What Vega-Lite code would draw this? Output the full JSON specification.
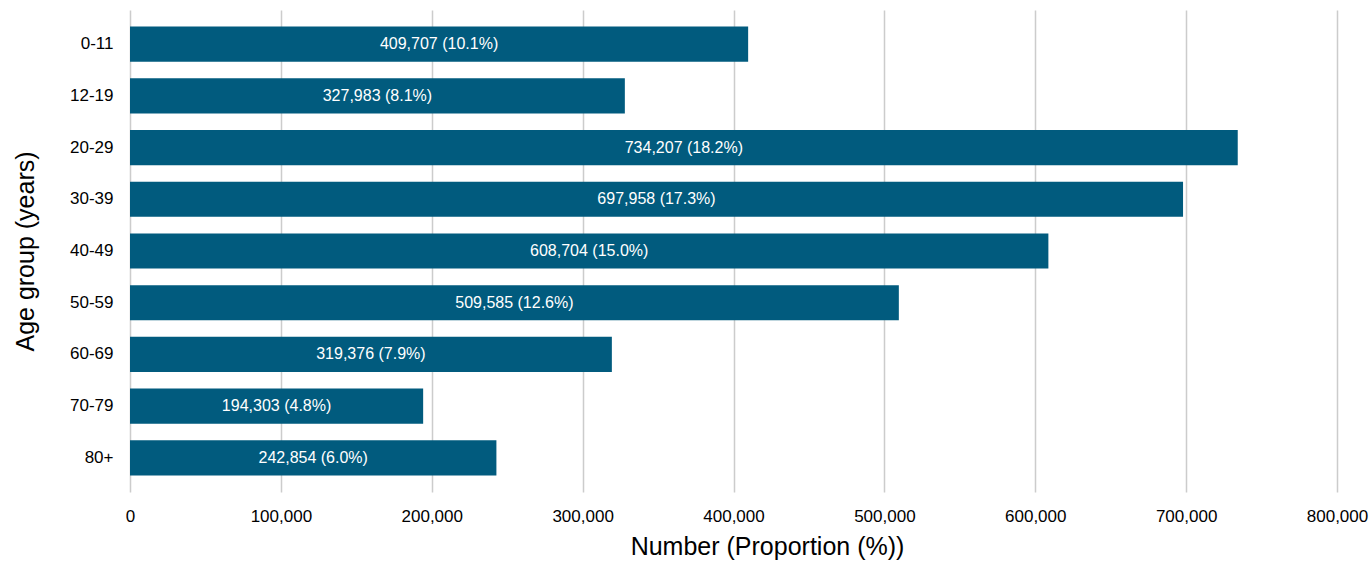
{
  "$schema": "https://vega.github.io/schema/vega-lite/v6.json",
  "width": 1207,
  "height": 482,
  "autosize": {"type": "none"},
  "padding": {"left": 130, "top": 10, "right": 34, "bottom": 70},
  "background": "white",
  "config": {
    "font": "Liberation Sans",
    "view": {"stroke": null},
    "axis": {
      "labelFontSize": 17,
      "labelColor": "#000000",
      "titleFontSize": 25,
      "titleFontWeight": "normal",
      "titleColor": "#000000",
      "ticks": false,
      "domain": false
    }
  },
  "data": {
    "values": [
      {"age": "0-11", "value": 409707, "label": "409,707 (10.1%)"},
      {"age": "12-19", "value": 327983, "label": "327,983 (8.1%)"},
      {"age": "20-29", "value": 734207, "label": "734,207 (18.2%)"},
      {"age": "30-39", "value": 697958, "label": "697,958 (17.3%)"},
      {"age": "40-49", "value": 608704, "label": "608,704 (15.0%)"},
      {"age": "50-59", "value": 509585, "label": "509,585 (12.6%)"},
      {"age": "60-69", "value": 319376, "label": "319,376 (7.9%)"},
      {"age": "70-79", "value": 194303, "label": "194,303 (4.8%)"},
      {"age": "80+", "value": 242854, "label": "242,854 (6.0%)"}
    ]
  },
  "transform": [{"calculate": "datum.value / 2", "as": "mid"}],
  "encoding": {
    "y": {
      "field": "age",
      "type": "nominal",
      "sort": null,
      "scale": {"paddingInner": 0.32, "paddingOuter": 0.32},
      "axis": {
        "title": "Age group (years)",
        "titlePadding": 31,
        "labelPadding": 17,
        "labelFontSize": 17,
        "grid": false
      }
    }
  },
  "layer": [
    {
      "mark": {"type": "bar", "color": "#015b7e"},
      "encoding": {
        "x": {
          "field": "value",
          "type": "quantitative",
          "scale": {"domain": [0, 800000], "nice": false},
          "title": "Number (Proportion (%))",
          "axis": {
            "title": "Number (Proportion (%))",
            "titlePadding": 10,
            "titleX": 637,
            "labelPadding": 16,
            "labelFontSize": 17,
            "values": [0, 100000, 200000, 300000, 400000, 500000, 600000, 700000, 800000],
            "format": ",.0f",
            "grid": true,
            "gridColor": "#cccccc",
            "gridWidth": 1.5,
            "labelFlush": false
          }
        }
      }
    },
    {
      "mark": {"type": "text", "color": "#ffffff", "fontSize": 16, "align": "center", "baseline": "middle"},
      "encoding": {
        "x": {
          "field": "mid",
          "type": "quantitative",
          "scale": {"domain": [0, 800000], "nice": false},
          "title": "Number (Proportion (%))",
          "axis": {
            "title": "Number (Proportion (%))",
            "titlePadding": 10,
            "titleX": 637,
            "labelPadding": 16,
            "labelFontSize": 17,
            "values": [0, 100000, 200000, 300000, 400000, 500000, 600000, 700000, 800000],
            "format": ",.0f",
            "grid": true,
            "gridColor": "#cccccc",
            "gridWidth": 1.5,
            "labelFlush": false
          }
        },
        "text": {"field": "label"}
      }
    }
  ]
}
